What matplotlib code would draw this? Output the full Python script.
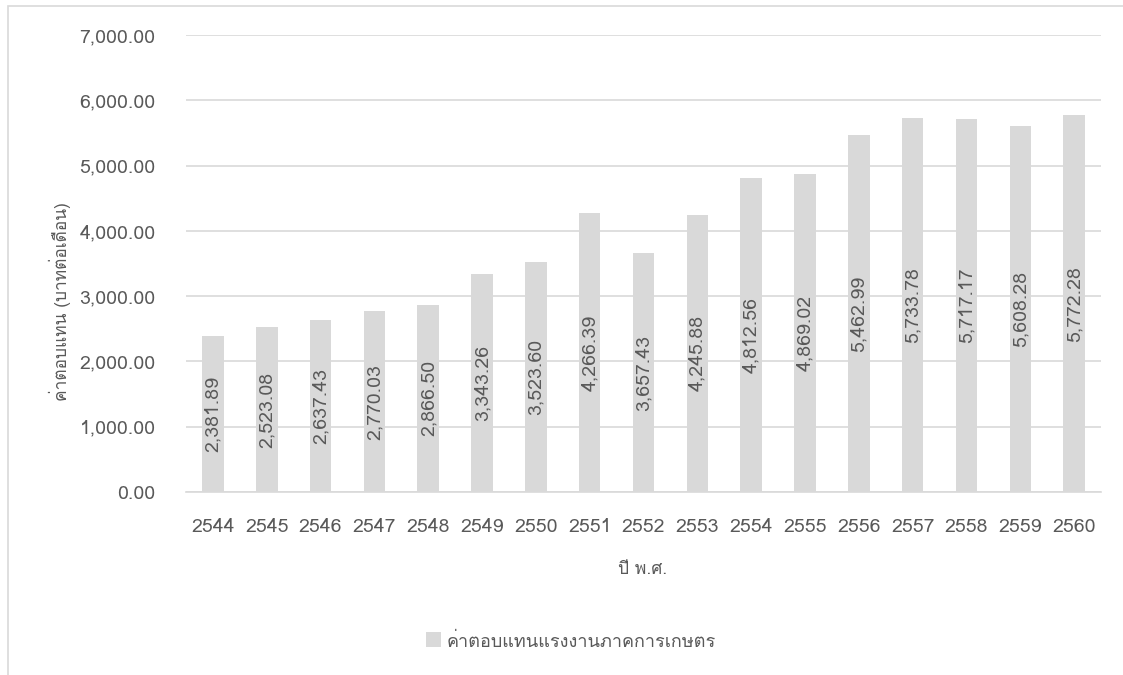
import matplotlib
matplotlib.use("Agg")
import matplotlib.pyplot as plt
from matplotlib import font_manager, ft2font
from matplotlib.patches import Rectangle
import numpy as np

years = ["2544", "2545", "2546", "2547", "2548", "2549", "2550", "2551", "2552",
         "2553", "2554", "2555", "2556", "2557", "2558", "2559", "2560"]
wages = [2381.89, 2523.08, 2637.43, 2770.03, 2866.50, 3343.26, 3523.60, 4266.39, 3657.43,
         4245.88, 4812.56, 4869.02, 5462.99, 5733.78, 5717.17, 5608.28, 5772.28]
y_ticks = [0, 1000, 2000, 3000, 4000, 5000, 6000, 7000]
series_name = "ค่าตอบแทนแรงงานภาคการเกษตร"
y_title = "ค่าตอบแทน (บาทต่อเดือน)"
x_title = "ปี พ.ศ."


def thai_font():
    # first installed face that has Thai glyphs
    for f in font_manager.fontManager.ttflist:
        try:
            cmap = ft2font.FT2Font(f.fname).get_charmap()
        except Exception:
            continue
        if 0x0E04 in cmap and 0x0030 in cmap:
            return f.name
    return None


th = thai_font()
fam = ([th] if th else []) + ["DejaVu Sans"]
plt.rcParams["font.family"] = fam

TXT = "#595959"
BAR = "#d9d9d9"
GRID = "#d9d9d9"
FS = 14

W, H = 1123, 675
fig = plt.figure(figsize=(W / 100, H / 100), dpi=100)
ax = fig.add_axes([186 / W, 1 - 492 / H, (1101 - 186) / W, (492 - 35) / H])

x = np.arange(len(years))
ax.bar(x, wages, width=0.40, color=BAR, zorder=2)
for xi, v in zip(x, wages):
    ax.text(xi, v / 2, f"{v:,.2f}", rotation=90, ha="center", va="center",
            fontsize=FS, color=TXT, zorder=3)

ax.set_xlim(-0.5, len(years) - 0.5)
ax.set_ylim(0, 7000)
ax.set_yticks(y_ticks)
ax.set_yticklabels([f"{t:,.2f}" for t in y_ticks])
ax.set_xticks(x)
ax.set_xticklabels(years)
ax.tick_params(axis="both", length=0, labelsize=FS, labelcolor=TXT)
ax.tick_params(axis="y", pad=22)
ax.tick_params(axis="x", pad=19)
ax.yaxis.grid(True, color=GRID, lw=1.2, zorder=0)
for s in ["top", "right", "left"]:
    ax.spines[s].set_visible(False)
ax.spines["bottom"].set_color(GRID)
ax.spines["bottom"].set_linewidth(1.2)

fig.text(60 / W, 1 - 302 / H, y_title, rotation=90, ha="center", va="center",
         fontsize=12.5, color=TXT)
fig.text(643 / W, 1 - 570 / H, x_title, ha="center", va="center",
         fontsize=12.5, color=TXT)

# legend
fig.patches.append(Rectangle((426 / W, 1 - 647 / H), 15 / W, 15 / H,
                             transform=fig.transFigure, fc=BAR, ec="none"))
fig.text(447 / W, 1 - 642 / H, series_name, ha="left", va="center",
         fontsize=13, color=TXT)

# chart frame
fig.patches.append(Rectangle((7.5 / W, -0.1), 1.2, 1 - 5.5 / H + 0.1,
                             transform=fig.transFigure, fc="none", ec="#d9d9d9", lw=1.2))

fig.savefig("out.png", dpi=100, facecolor="white")
